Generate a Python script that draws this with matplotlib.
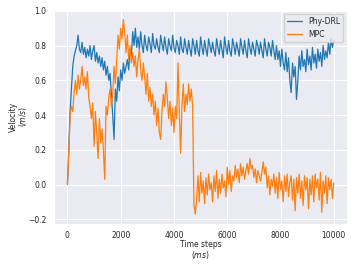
import matplotlib
matplotlib.use('Agg')
import matplotlib.pyplot as plt
import seaborn as sns
import numpy as np

time_ms = np.arange(0, 10001, 50)

phy_drl = [
    0.00, 0.20, 0.42, 0.55, 0.68, 0.74, 0.77, 0.80, 0.86, 0.78,
    0.76, 0.82, 0.75, 0.79, 0.73, 0.78, 0.74, 0.80, 0.72, 0.77,
    0.80, 0.71, 0.76, 0.70, 0.74, 0.68, 0.73, 0.66, 0.71, 0.63,
    0.68, 0.60, 0.64, 0.52, 0.40, 0.26, 0.55, 0.48, 0.62, 0.54,
    0.66, 0.60, 0.70, 0.64, 0.68, 0.72, 0.66, 0.78, 0.74, 0.88,
    0.80, 0.90, 0.79, 0.85, 0.78, 0.88, 0.80, 0.76,
    # 2900 - 4500
    0.86, 0.80, 0.77, 0.85, 0.81, 0.76, 0.87, 0.80, 0.78, 0.84,
    0.79, 0.76, 0.86, 0.81, 0.77, 0.85, 0.79, 0.75, 0.84, 0.80,
    0.77, 0.86, 0.79, 0.76, 0.83, 0.80, 0.75, 0.85, 0.78, 0.76,
    0.84, 0.79, 0.75,
    # 4550 - 7800
    0.83, 0.78, 0.74, 0.84, 0.80, 0.75, 0.83, 0.77, 0.74, 0.85,
    0.79, 0.75, 0.83, 0.78, 0.74, 0.84, 0.80, 0.76, 0.82, 0.77,
    0.74, 0.84, 0.79, 0.75, 0.83, 0.78, 0.73, 0.85, 0.79, 0.75,
    0.83, 0.77, 0.74, 0.84, 0.80, 0.75, 0.82, 0.78, 0.74, 0.84,
    0.79, 0.75, 0.83, 0.77, 0.73, 0.84, 0.79, 0.75, 0.82, 0.78,
    0.74, 0.83, 0.80, 0.75, 0.82, 0.77, 0.73, 0.84, 0.78, 0.74,
    0.82, 0.79, 0.74, 0.83, 0.77, 0.72,
    # 7850 - 8650
    0.80, 0.72, 0.77, 0.68, 0.78, 0.70, 0.66, 0.76, 0.65, 0.73,
    0.60, 0.53, 0.70, 0.62, 0.68, 0.49, 0.60,
    # 8700 - 10000
    0.74, 0.66, 0.77, 0.68, 0.72, 0.65, 0.78, 0.69, 0.74, 0.66,
    0.79, 0.70, 0.75, 0.67, 0.78, 0.71, 0.76, 0.68, 0.80, 0.72,
    0.77, 0.73, 0.82, 0.75, 0.84, 0.79, 0.83,
]

mpc = [
    0.00, 0.18, 0.40, 0.45, 0.42, 0.53, 0.60, 0.52, 0.63, 0.55,
    0.60, 0.68, 0.57, 0.62, 0.55, 0.65, 0.50, 0.45, 0.38, 0.47,
    0.22, 0.42, 0.30, 0.15, 0.38, 0.24, 0.32, 0.20, 0.03, 0.45,
    0.40, 0.50, 0.55, 0.45, 0.52, 0.68, 0.58, 0.72, 0.86, 0.78,
    0.90, 0.84, 0.95, 0.88, 0.76, 0.86, 0.72, 0.80, 0.70, 0.76,
    0.68, 0.74, 0.62, 0.72, 0.78, 0.66, 0.60, 0.70, 0.62, 0.52,
    0.64, 0.48, 0.56, 0.45, 0.52, 0.40, 0.48, 0.34, 0.44, 0.30,
    0.26, 0.42, 0.52, 0.45, 0.59, 0.50, 0.38, 0.48, 0.34, 0.44,
    0.30, 0.45, 0.38, 0.70, 0.42, 0.18, 0.45, 0.58, 0.42, 0.52,
    0.46, 0.58, 0.48, 0.55, 0.45, -0.12, -0.17, -0.08, 0.05, -0.10,
    0.07, -0.05, 0.02, -0.11, 0.04, -0.06, 0.06, -0.03, 0.01, -0.10,
    0.05, -0.04, 0.08, -0.08, 0.03, -0.05, 0.06, -0.02, 0.02, -0.07,
    0.10, 0.00, 0.08, -0.04, 0.05, 0.02, 0.11, 0.04, 0.09, 0.01,
    0.12, 0.05, 0.10, 0.03, 0.08, 0.12, 0.06, 0.15, 0.09, 0.11,
    0.04, 0.09, 0.01, 0.08, 0.05, 0.02, 0.07, 0.13, 0.06, 0.10,
    -0.02, 0.05, -0.06, 0.03, -0.01, 0.06, -0.05, 0.04, -0.08, 0.07,
    -0.03, 0.02, -0.10, 0.05, -0.04, 0.06, -0.07, 0.01, 0.05, -0.09,
    0.03, -0.15, 0.04, -0.05, 0.06, -0.08, 0.02, -0.12, 0.05, -0.03,
    0.04, -0.14, 0.03, -0.06, 0.05, -0.10, 0.06, -0.02, 0.03, -0.09,
    0.07, -0.16, 0.02, -0.05, 0.05, -0.11, 0.04, -0.03, 0.03, -0.08,
    0.01,
]

sns.set_style('darkgrid')
plt.rcParams['font.family'] = ['DejaVu Sans']

fig, ax = plt.subplots(figsize=(3.56, 2.67), dpi=100)
fig.subplots_adjust(left=0.152, right=0.975, top=0.963, bottom=0.162)

ax.plot(time_ms, phy_drl, color='#1f77b4', lw=0.9, label='Phy-DRL')
ax.plot(time_ms, mpc, color='#ff7f0e', lw=0.9, label='MPC')

ax.set_xlabel('Time steps\n$(ms)$', fontsize=5.5, labelpad=0, linespacing=0.95)
ax.set_ylabel('Velocity\n$(m/s)$', fontsize=5.5, labelpad=-1, linespacing=0.95)
ax.tick_params(labelsize=5.5, pad=2)
ax.legend(loc='upper right', fontsize=5.5)

plt.savefig('out.png')
